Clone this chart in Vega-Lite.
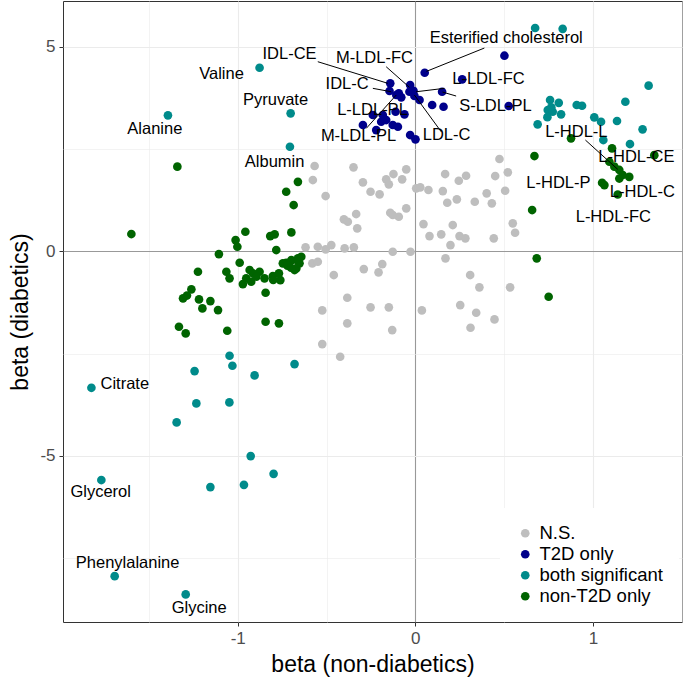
{
  "$schema": "https://vega.github.io/schema/vega-lite/v6.json",
  "width": 619,
  "height": 621,
  "autosize": {"type": "none"},
  "padding": {"left": 63, "top": 1, "right": 3, "bottom": 60},
  "background": "white",
  "config": {
    "view": {"stroke": "#333333", "strokeWidth": 1},
    "font": "Liberation Sans",
    "axis": {
      "domain": false,
      "labelFont": "Liberation Sans",
      "labelFontSize": 17,
      "labelColor": "#4D4D4D",
      "titleFont": "Liberation Sans",
      "titleFontSize": 23,
      "titleFontWeight": "normal",
      "titleColor": "black",
      "tickSize": 4,
      "grid": true
    }
  },
  "datasets": {
    "pts": [
      {"x": -0.567, "y": 2.086, "g": "N.S."}, {"x": -0.577, "y": 1.743, "g": "N.S."}, {"x": -0.505, "y": 1.352, "g": "N.S."},
      {"x": -0.348, "y": 2.054, "g": "N.S."}, {"x": -0.295, "y": 1.687, "g": "N.S."}, {"x": -0.252, "y": 1.457, "g": "N.S."},
      {"x": -0.201, "y": 1.394, "g": "N.S."}, {"x": -0.164, "y": 1.76, "g": "N.S."}, {"x": -0.149, "y": 1.638, "g": "N.S."},
      {"x": -0.123, "y": 1.89, "g": "N.S."}, {"x": -0.074, "y": 1.76, "g": "N.S."}, {"x": -0.051, "y": 2.005, "g": "N.S."},
      {"x": -0.402, "y": 0.782, "g": "N.S."}, {"x": -0.38, "y": 0.724, "g": "N.S."}, {"x": -0.333, "y": 0.912, "g": "N.S."},
      {"x": -0.327, "y": 0.562, "g": "N.S."}, {"x": -0.141, "y": 0.944, "g": "N.S."}, {"x": -0.093, "y": 0.846, "g": "N.S."},
      {"x": -0.051, "y": 1.051, "g": "N.S."}, {"x": -0.127, "y": 0.888, "g": "N.S."}, {"x": 0.005, "y": 1.54, "g": "N.S."},
      {"x": 0.028, "y": 1.565, "g": "N.S."}, {"x": 0.074, "y": 1.499, "g": "N.S."}, {"x": 0.168, "y": 1.89, "g": "N.S."},
      {"x": 0.155, "y": 1.474, "g": "N.S."}, {"x": 0.18, "y": 1.188, "g": "N.S."}, {"x": 0.234, "y": 1.271, "g": "N.S."},
      {"x": 0.245, "y": 1.726, "g": "N.S."}, {"x": 0.286, "y": 1.849, "g": "N.S."}, {"x": 0.335, "y": 1.213, "g": "N.S."},
      {"x": 0.402, "y": 1.418, "g": "N.S."}, {"x": 0.431, "y": 1.174, "g": "N.S."}, {"x": 0.45, "y": 1.841, "g": "N.S."},
      {"x": 0.474, "y": 2.257, "g": "N.S."}, {"x": 0.521, "y": 1.932, "g": "N.S."}, {"x": 0.506, "y": 1.482, "g": "N.S."},
      {"x": 0.549, "y": 0.685, "g": "N.S."}, {"x": 0.562, "y": 0.455, "g": "N.S."}, {"x": 0.046, "y": 0.667, "g": "N.S."},
      {"x": 0.08, "y": 0.374, "g": "N.S."}, {"x": 0.146, "y": 0.416, "g": "N.S."}, {"x": 0.211, "y": 0.643, "g": "N.S."},
      {"x": 0.198, "y": 0.154, "g": "N.S."}, {"x": 0.249, "y": 0.374, "g": "N.S."}, {"x": 0.282, "y": 0.318, "g": "N.S."},
      {"x": 0.442, "y": 0.318, "g": "N.S."}, {"x": 0.17, "y": -0.171, "g": "N.S."}, {"x": -0.127, "y": -0.01, "g": "N.S."},
      {"x": -0.027, "y": -0.01, "g": "N.S."}, {"x": -0.618, "y": 0.098, "g": "N.S."}, {"x": -0.549, "y": 0.112, "g": "N.S."},
      {"x": -0.505, "y": 0.049, "g": "N.S."}, {"x": -0.473, "y": 0.154, "g": "N.S."}, {"x": -0.398, "y": 0.073, "g": "N.S."},
      {"x": -0.346, "y": 0.098, "g": "N.S."}, {"x": -0.58, "y": -0.293, "g": "N.S."}, {"x": -0.549, "y": -0.254, "g": "N.S."},
      {"x": -0.459, "y": -0.579, "g": "N.S."}, {"x": -0.29, "y": -0.433, "g": "N.S."}, {"x": -0.186, "y": -0.311, "g": "N.S."},
      {"x": -0.207, "y": -0.513, "g": "N.S."}, {"x": -0.383, "y": -1.134, "g": "N.S."}, {"x": -0.524, "y": -1.443, "g": "N.S."},
      {"x": -0.383, "y": -1.76, "g": "N.S."}, {"x": -0.252, "y": -1.369, "g": "N.S."}, {"x": -0.149, "y": -1.369, "g": "N.S."},
      {"x": -0.13, "y": -1.924, "g": "N.S."}, {"x": -0.524, "y": -2.267, "g": "N.S."}, {"x": -0.423, "y": -2.577, "g": "N.S."},
      {"x": 0.037, "y": -1.443, "g": "N.S."}, {"x": 0.309, "y": -0.579, "g": "N.S."}, {"x": 0.361, "y": -0.88, "g": "N.S."},
      {"x": 0.534, "y": -0.88, "g": "N.S."}, {"x": 0.253, "y": -1.313, "g": "N.S."}, {"x": 0.343, "y": -1.501, "g": "N.S."},
      {"x": 0.446, "y": -1.663, "g": "N.S."}, {"x": 0.311, "y": -1.868, "g": "N.S."},

      {"x": -1.393, "y": 3.325, "g": "both significant"}, {"x": -0.877, "y": 4.489, "g": "both significant"},
      {"x": -0.702, "y": 3.374, "g": "both significant"}, {"x": -0.706, "y": 2.557, "g": "both significant"},
      {"x": 0.675, "y": 5.46, "g": "both significant"}, {"x": 0.83, "y": 5.44, "g": "both significant"},
      {"x": 1.314, "y": 4.05, "g": "both significant"}, {"x": 0.759, "y": 3.7, "g": "both significant"},
      {"x": 0.808, "y": 3.63, "g": "both significant"}, {"x": 0.909, "y": 3.577, "g": "both significant"},
      {"x": 0.939, "y": 3.56, "g": "both significant"}, {"x": 1.183, "y": 3.658, "g": "both significant"},
      {"x": 0.746, "y": 3.455, "g": "both significant"}, {"x": 0.774, "y": 3.414, "g": "both significant"},
      {"x": 0.821, "y": 3.349, "g": "both significant"}, {"x": 1.008, "y": 3.276, "g": "both significant"},
      {"x": 1.046, "y": 3.169, "g": "both significant"}, {"x": 1.136, "y": 3.186, "g": "both significant"},
      {"x": 0.689, "y": 3.105, "g": "both significant"}, {"x": 1.28, "y": 2.983, "g": "both significant"},
      {"x": 1.059, "y": 2.721, "g": "both significant"}, {"x": 1.209, "y": 2.623, "g": "both significant"},
      {"x": 0.744, "y": 3.28, "g": "both significant"}, {"x": 0.766, "y": 3.52, "g": "both significant"},
      {"x": -1.824, "y": -3.335, "g": "both significant"}, {"x": -1.768, "y": -5.59, "g": "both significant"},
      {"x": -1.046, "y": -2.552, "g": "both significant"}, {"x": -1.03, "y": -2.797, "g": "both significant"},
      {"x": -1.243, "y": -2.927, "g": "both significant"}, {"x": -0.905, "y": -3.032, "g": "both significant"},
      {"x": -0.68, "y": -2.755, "g": "both significant"}, {"x": -1.233, "y": -3.717, "g": "both significant"},
      {"x": -1.047, "y": -3.692, "g": "both significant"}, {"x": -1.344, "y": -4.181, "g": "both significant"},
      {"x": -0.927, "y": -5.005, "g": "both significant"}, {"x": -0.798, "y": -5.438, "g": "both significant"},
      {"x": -1.154, "y": -5.763, "g": "both significant"}, {"x": -0.965, "y": -5.707, "g": "both significant"},
      {"x": -1.693, "y": -7.94, "g": "both significant"}, {"x": -1.293, "y": -8.386, "g": "both significant"},

      {"x": 0.877, "y": 2.763, "g": "non-T2D only"}, {"x": 0.671, "y": 2.33, "g": "non-T2D only"}, {"x": 1.108, "y": 2.518, "g": "non-T2D only"},
      {"x": 1.093, "y": 2.19, "g": "non-T2D only"}, {"x": 1.121, "y": 2.07, "g": "non-T2D only"}, {"x": 1.149, "y": 1.99, "g": "non-T2D only"},
      {"x": 1.168, "y": 1.866, "g": "non-T2D only"}, {"x": 1.205, "y": 1.82, "g": "non-T2D only"}, {"x": 1.149, "y": 1.78, "g": "non-T2D only"},
      {"x": 1.052, "y": 1.677, "g": "non-T2D only"}, {"x": 1.065, "y": 1.62, "g": "non-T2D only"}, {"x": 1.14, "y": 1.39, "g": "non-T2D only"},
      {"x": 0.658, "y": 1.01, "g": "non-T2D only"}, {"x": 0.684, "y": -0.171, "g": "non-T2D only"}, {"x": 0.751, "y": -1.11, "g": "non-T2D only"},
      {"x": 1.346, "y": 2.352, "g": "non-T2D only"},
      {"x": -1.34, "y": 2.07, "g": "non-T2D only"}, {"x": -1.599, "y": 0.423, "g": "non-T2D only"}, {"x": -0.661, "y": 1.7, "g": "non-T2D only"},
      {"x": -0.727, "y": 1.457, "g": "non-T2D only"}, {"x": -0.685, "y": 1.132, "g": "non-T2D only"}, {"x": -0.957, "y": 0.48, "g": "non-T2D only"},
      {"x": -1.012, "y": 0.276, "g": "non-T2D only"}, {"x": -1.002, "y": 0.112, "g": "non-T2D only"}, {"x": -0.817, "y": 0.374, "g": "non-T2D only"},
      {"x": -0.792, "y": 0.416, "g": "non-T2D only"}, {"x": -0.698, "y": 0.464, "g": "non-T2D only"}, {"x": -0.783, "y": 0.032, "g": "non-T2D only"},
      {"x": -1.106, "y": -0.066, "g": "non-T2D only"}, {"x": -0.989, "y": -0.279, "g": "non-T2D only"}, {"x": -1.224, "y": -0.498, "g": "non-T2D only"},
      {"x": -1.064, "y": -0.498, "g": "non-T2D only"}, {"x": -1.046, "y": -0.66, "g": "non-T2D only"}, {"x": -0.933, "y": -0.457, "g": "non-T2D only"},
      {"x": -0.914, "y": -0.538, "g": "non-T2D only"}, {"x": -0.877, "y": -0.498, "g": "non-T2D only"}, {"x": -0.952, "y": -0.66, "g": "non-T2D only"},
      {"x": -0.971, "y": -0.8, "g": "non-T2D only"}, {"x": -0.924, "y": -0.743, "g": "non-T2D only"}, {"x": -0.895, "y": -0.62, "g": "non-T2D only"},
      {"x": -0.849, "y": -0.66, "g": "non-T2D only"}, {"x": -0.802, "y": -0.604, "g": "non-T2D only"}, {"x": -0.76, "y": -0.702, "g": "non-T2D only"},
      {"x": -0.768, "y": -0.538, "g": "non-T2D only"}, {"x": -0.727, "y": -0.279, "g": "non-T2D only"}, {"x": -0.698, "y": -0.213, "g": "non-T2D only"},
      {"x": -0.661, "y": -0.171, "g": "non-T2D only"}, {"x": -0.652, "y": -0.293, "g": "non-T2D only"}, {"x": -0.67, "y": -0.416, "g": "non-T2D only"},
      {"x": -0.68, "y": -0.457, "g": "non-T2D only"}, {"x": -0.642, "y": -0.132, "g": "non-T2D only"}, {"x": -0.746, "y": -0.293, "g": "non-T2D only"},
      {"x": -0.843, "y": -1.012, "g": "non-T2D only"}, {"x": -1.261, "y": -0.929, "g": "non-T2D only"}, {"x": -1.308, "y": -1.149, "g": "non-T2D only"},
      {"x": -1.218, "y": -1.174, "g": "non-T2D only"}, {"x": -1.154, "y": -1.215, "g": "non-T2D only"}, {"x": -1.199, "y": -1.394, "g": "non-T2D only"},
      {"x": -1.111, "y": -1.435, "g": "non-T2D only"}, {"x": -1.331, "y": -1.843, "g": "non-T2D only"}, {"x": -1.293, "y": -2.005, "g": "non-T2D only"},
      {"x": -1.059, "y": -1.941, "g": "non-T2D only"}, {"x": -0.843, "y": -1.721, "g": "non-T2D only"}, {"x": -0.768, "y": -1.76, "g": "non-T2D only"},
      {"x": -1.286, "y": -1.08, "g": "non-T2D only"}, {"x": -0.72, "y": -0.35, "g": "non-T2D only"}, {"x": -0.7, "y": -0.4, "g": "non-T2D only"},
      {"x": -0.66, "y": -0.25, "g": "non-T2D only"}, {"x": -0.8, "y": -0.7, "g": "non-T2D only"},

      {"x": 0.053, "y": 4.367, "g": "T2D only"}, {"x": 0.264, "y": 4.205, "g": "T2D only"}, {"x": 0.502, "y": 4.783, "g": "T2D only"},
      {"x": -0.141, "y": 4.107, "g": "T2D only"}, {"x": -0.029, "y": 4.066, "g": "T2D only"}, {"x": -0.145, "y": 3.919, "g": "T2D only"},
      {"x": -0.093, "y": 3.863, "g": "T2D only"}, {"x": -0.033, "y": 3.902, "g": "T2D only"}, {"x": -0.01, "y": 3.927, "g": "T2D only"},
      {"x": -0.079, "y": 3.765, "g": "T2D only"}, {"x": 0.151, "y": 3.902, "g": "T2D only"}, {"x": 0.024, "y": 3.7, "g": "T2D only"},
      {"x": 0.095, "y": 3.577, "g": "T2D only"}, {"x": 0.159, "y": 3.536, "g": "T2D only"}, {"x": 0.526, "y": 3.553, "g": "T2D only"},
      {"x": -0.111, "y": 3.413, "g": "T2D only"}, {"x": -0.061, "y": 3.35, "g": "T2D only"}, {"x": -0.183, "y": 3.333, "g": "T2D only"},
      {"x": -0.239, "y": 3.333, "g": "T2D only"}, {"x": -0.164, "y": 3.21, "g": "T2D only"}, {"x": -0.192, "y": 3.169, "g": "T2D only"},
      {"x": -0.127, "y": 3.088, "g": "T2D only"}, {"x": -0.098, "y": 3.047, "g": "T2D only"}, {"x": -0.295, "y": 3.088, "g": "T2D only"},
      {"x": -0.029, "y": 2.843, "g": "T2D only"}, {"x": 0.001, "y": 2.738, "g": "T2D only"}, {"x": -0.107, "y": 3.822, "g": "T2D only"},
      {"x": -0.005, "y": 3.8, "g": "T2D only"}, {"x": -0.22, "y": 2.965, "g": "T2D only"}
    ],
    "segs": [
      {"x": 0.389, "y": 4.97, "x2": 0.063, "y2": 4.4},
      {"x": -0.549, "y": 4.636, "x2": -0.155, "y2": 4.108},
      {"x": -0.164, "y": 4.513, "x2": -0.033, "y2": 4.01},
      {"x": -0.239, "y": 3.985, "x2": -0.136, "y2": 3.902},
      {"x": -0.276, "y": 3.007, "x2": -0.107, "y2": 3.822},
      {"x": 0.146, "y": 2.924, "x2": -0.005, "y2": 3.822},
      {"x": 0.005, "y": 3.902, "x2": 0.164, "y2": 3.985},
      {"x": 0.153, "y": 3.895, "x2": 0.23, "y2": 3.797},
      {"x": 0.958, "y": 2.721, "x2": 1.14, "y2": 2.005}
    ],
    "labs": [
      {"x": 0.512, "y": 5.215, "label": "Esterified cholesterol"},
      {"x": -0.23, "y": 4.726, "label": "M-LDL-FC"},
      {"x": -0.708, "y": 4.824, "label": "IDL-CE"},
      {"x": -0.384, "y": 4.09, "label": "IDL-C"},
      {"x": -0.241, "y": 3.455, "label": "L-LDL-PL"},
      {"x": -0.32, "y": 2.819, "label": "M-LDL-PL"},
      {"x": 0.176, "y": 2.843, "label": "LDL-C"},
      {"x": 0.412, "y": 4.213, "label": "L-LDL-FC"},
      {"x": 0.451, "y": 3.553, "label": "S-LDL-PL"},
      {"x": -1.091, "y": 4.335, "label": "Valine"},
      {"x": -0.787, "y": 3.699, "label": "Pyruvate"},
      {"x": -0.792, "y": 2.183, "label": "Albumin"},
      {"x": -1.467, "y": 3.0, "label": "Alanine"},
      {"x": -1.636, "y": -3.244, "label": "Citrate"},
      {"x": -1.772, "y": -5.885, "label": "Glycerol"},
      {"x": -1.62, "y": -7.621, "label": "Phenylalanine"},
      {"x": -1.217, "y": -8.721, "label": "Glycine"},
      {"x": 0.907, "y": 2.924, "label": "L-HDL-L"},
      {"x": 1.245, "y": 2.306, "label": "L-HDL-CE"},
      {"x": 0.806, "y": 1.67, "label": "L-HDL-P"},
      {"x": 1.279, "y": 1.457, "label": "L-HDL-C"},
      {"x": 1.115, "y": 0.846, "label": "L-HDL-FC"}
    ]
  },
  "encoding": {
    "x": {
      "field": "x",
      "type": "quantitative",
      "scale": {"domain": [-1.984, 1.502], "nice": false, "zero": false},
      "axis": {
        "title": "beta (non-diabetics)",
        "values": [-1.5, -1, -0.5, 0, 0.5, 1, 1.5],
        "labelExpr": "datum.value % 1 === 0 ? '' + datum.value : ''",
        "tickColor": {"condition": {"test": "datum.value % 1 !== 0", "value": "transparent"}, "value": "#333333"},
        "gridColor": {"condition": {"test": "datum.value === 0", "value": "#999999"}, "value": "#EBEBEB"},
        "gridWidth": {"condition": {"test": "datum.value % 1 !== 0", "value": 0.6}, "value": 1.1},
        "labelPadding": 4,
        "titlePadding": 7
      }
    },
    "y": {
      "field": "y",
      "type": "quantitative",
      "scale": {"domain": [-9.06, 6.12], "nice": false, "zero": false},
      "axis": {
        "title": "beta (diabetics)",
        "values": [-7.5, -5, -2.5, 0, 2.5, 5],
        "labelExpr": "datum.value % 5 === 0 ? '' + datum.value : ''",
        "tickColor": {"condition": {"test": "datum.value % 5 !== 0", "value": "transparent"}, "value": "#333333"},
        "gridColor": {"condition": {"test": "datum.value === 0", "value": "#999999"}, "value": "#EBEBEB"},
        "gridWidth": {"condition": {"test": "datum.value % 5 !== 0", "value": 0.6}, "value": 1.1},
        "labelPadding": 4,
        "titlePadding": 7
      }
    }
  },
  "layer": [
    {
      "data": {"name": "pts"},
      "mark": {"type": "circle", "size": 75, "opacity": 1},
      "encoding": {
        "color": {
          "field": "g",
          "type": "nominal",
          "sort": null,
          "scale": {
            "domain": ["N.S.", "T2D only", "both significant", "non-T2D only"],
            "range": ["#BEBEBE", "#00008B", "#008B8B", "#006400"]
          },
          "legend": {
            "title": null,
            "orient": "none",
            "legendX": 437,
            "legendY": 507,
            "padding": 16,
            "fillColor": "white",
            "labelFontSize": 18.5,
            "labelFont": "Liberation Sans",
            "labelColor": "black",
            "symbolType": "circle",
            "symbolSize": 75,
            "symbolStrokeWidth": 0,
            "labelOffset": 5,
            "rowPadding": 2
          }
        }
      }
    },
    {
      "data": {"name": "segs"},
      "mark": {"type": "rule", "color": "black", "strokeWidth": 1},
      "encoding": {
        "x2": {"field": "x2"},
        "y2": {"field": "y2"}
      }
    },
    {
      "data": {"name": "labs"},
      "mark": {"type": "text", "fontSize": 16.5, "font": "Liberation Sans", "color": "black", "baseline": "middle", "align": "center"},
      "encoding": {
        "text": {"field": "label", "type": "nominal"}
      }
    }
  ]
}
